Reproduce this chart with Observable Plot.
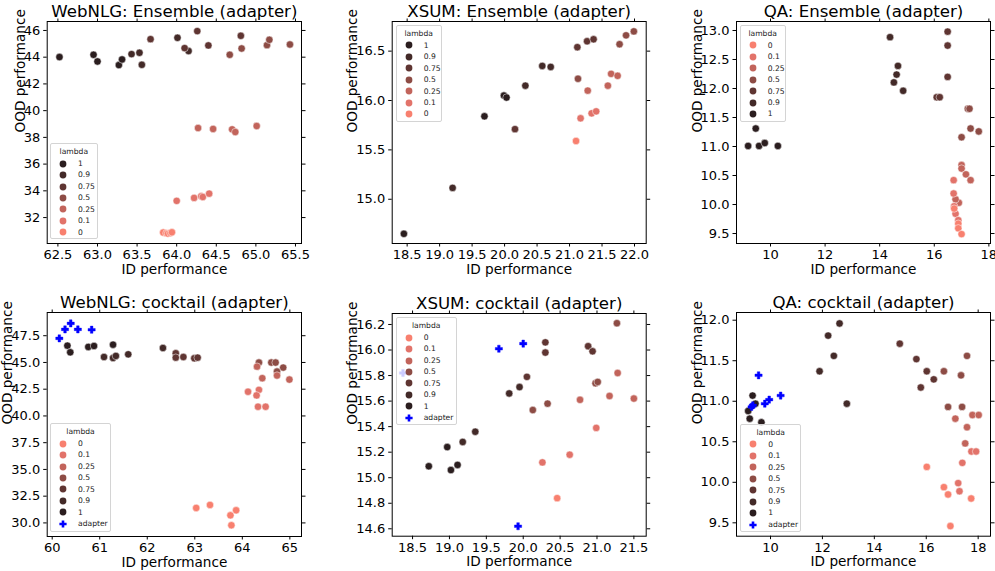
<!DOCTYPE html>
<html>
<head>
<meta charset="utf-8">
<script src="https://cdn.jsdelivr.net/npm/d3@7"></script>
<script src="https://cdn.jsdelivr.net/npm/@observablehq/plot@0.6"></script>
<style>
  html, body { margin: 0; padding: 0; background: white; }
  #root { position: relative; width: 995px; height: 571px; overflow: hidden; font-family: 'DejaVu Sans', sans-serif; }
  .panel { position: absolute; }
  .legend { position: absolute; box-sizing: border-box; border: 1px solid #d4d4d4; border-radius: 2px;
            background: rgba(255,255,255,0.8); font-family: 'DejaVu Sans', sans-serif; font-size: 7.6px; color: #222; }
  .legend .lt { position: absolute; left: 0; right: 0; text-align: center; line-height: 9px; }
  .legend .row { position: absolute; left: 0; right: 0; height: 11.45px; line-height: 11.45px; }
  .legend .row svg { position: absolute; left: 8px; top: 1.7px; }
  .legend .row span { position: absolute; left: 27px; }
</style>
</head>
<body>
<div id="root"></div>
<script>
// ---- shared categories / styling ----
const lambdaLevels = [0, 0.1, 0.25, 0.5, 0.75, 0.9, 1];
const lambdaColors = ["#f8806f", "#e2736a", "#c2645b", "#8d4c45", "#5f3532", "#432a28", "#2b1e1f"];
const xLabel = "ID performance";
const yLabel = "OOD performance";

// ---- Panel 1: WebNLG Ensemble (adapter) ----
const webEnsX = [62.52,62.95,63.00,63.27,63.31, 63.43,63.53,63.56,64.01,64.15, 63.67,64.10,64.26,64.40,64.81, 64.67,64.82,65.14,65.17,65.43, 64.27,64.46,64.70,64.74,65.01, 64.00,64.22,64.31,64.33,64.41, 63.83,63.87,63.89,63.92,63.94];
const webEnsY = [44.01,44.18,43.68,43.41,43.83, 44.23,44.33,43.43,45.45,44.46, 45.35,44.68,45.95,44.88,45.60, 44.18,44.65,44.90,45.30,44.95, 38.70,38.63,38.60,38.40,38.85, 33.25,33.47,33.59,33.54,33.79, 30.88,30.83,30.80,30.85,30.90];
const webEnsL = [1,1,1,1,1, 0.9,0.9,0.9,0.9,0.9, 0.75,0.75,0.75,0.75,0.75, 0.5,0.5,0.5,0.5,0.5, 0.25,0.25,0.25,0.25,0.25, 0.1,0.1,0.1,0.1,0.1, 0,0,0,0,0];
const webEnsXTicks = [62.5,63.0,63.5,64.0,64.5,65.0,65.5];
const webEnsYTicks = [32,34,36,38,40,42,44,46];

// ---- Panel 2: XSUM Ensemble (adapter) ----
const xsumEnsX = [18.45,19.69,19.99,20.03, 19.20,20.32,20.58,20.71, 20.16,21.12,21.27,21.37, 21.13,21.77,21.87,21.99, 21.28,21.59,21.64,21.74, 21.17,21.34,21.41, 21.10];
const xsumEnsY = [14.65,15.84,16.05,16.03, 15.115,16.15,16.35,16.34, 15.71,16.54,16.60,16.62, 16.22,16.57,16.66,16.70, 16.10,16.15,16.27,16.25, 15.82,15.87,15.89, 15.59];
const xsumEnsL = [1,1,1,1, 0.9,0.9,0.9,0.9, 0.75,0.75,0.75,0.75, 0.5,0.5,0.5,0.5, 0.25,0.25,0.25,0.25, 0.1,0.1,0.1, 0];
const xsumEnsXTicks = [18.5,19.0,19.5,20.0,20.5,21.0,21.5,22.0];
const xsumEnsYTicks = [15.0,15.5,16.0,16.5];

// ---- Panel 3: QA Ensemble (adapter) ----
const qaEnsX = [9.18,9.46,9.58,9.79,10.27, 14.38,14.52,14.62,14.67,14.86, 16.49,16.49,16.49,16.09,16.20, 17.23,17.29,17.33,17.63,17.00, 17.00,17.00,17.16,17.33,16.90,16.78, 16.71,16.71,16.73,16.78,16.88, 16.73,16.88,16.88,17.00];
const qaEnsY = [11.01,11.31,11.01,11.06,11.01, 12.885,12.105,12.24,12.39,11.96, 12.98,12.74,12.20,11.85,11.85, 11.65,11.65,11.31,11.26,11.16, 10.68,10.62,10.52,10.42,10.03,10.09, 10.42,10.19,9.97,9.84,9.73, 9.93,9.67,9.59,9.49];
const qaEnsL = [1,1,1,1,1, 0.9,0.9,0.9,0.9,0.9, 0.75,0.75,0.75,0.75,0.75, 0.5,0.5,0.5,0.5,0.5, 0.25,0.25,0.25,0.25,0.25,0.25, 0.1,0.1,0.1,0.1,0.1, 0,0,0,0];
const qaEnsXTicks = [10,12,14,16,18];
const qaEnsYTicks = [9.5,10.0,10.5,11.0,11.5,12.0,12.5,13.0];

// ---- Panel 4: WebNLG cocktail (adapter) ----
const webCockX = [60.32,60.38,60.76,60.88,61.28, 61.09,61.28,61.34,61.60,62.33, 62.60,62.60,62.76,62.99,63.06, 64.35,64.61,64.70,64.86,64.73, 64.31,64.73,64.42,64.99, 64.12,64.35,64.30,64.33,64.49, 63.03,63.32,63.75,63.87,63.77];
const webCockY = [46.57,45.95,46.45,46.54,46.66, 45.51,45.42,45.61,45.76,46.35, 45.86,45.45,45.51,45.39,45.45, 44.99,44.99,44.99,44.52,44.15, 44.61,43.78,43.53,43.40, 42.26,42.44,41.92,40.86,40.86, 31.40,31.68,30.71,31.18,29.78];
const webCockL = [1,1,1,1,1, 0.9,0.9,0.9,0.9,0.9, 0.75,0.75,0.75,0.75,0.75, 0.5,0.5,0.5,0.5,0.5, 0.25,0.25,0.25,0.25, 0.1,0.1,0.1,0.1,0.1, 0,0,0,0,0];
const webAdapterX = [60.15,60.27,60.39,60.54,60.83];
const webAdapterY = [47.25,48.09,48.65,48.09,48.06];
const webCockXTicks = [60,61,62,63,64,65];
const webCockYTicks = [30.0,32.5,35.0,37.5,40.0,42.5,45.0,47.5];

// ---- Panel 5: XSUM cocktail (adapter) ----
const xsumCockX = [18.72,18.97,19.02,19.11, 19.18,19.35,19.81,19.95, 20.05,20.30,20.30,20.88,20.94, 20.13,20.33,21.27,20.98,21.01, 21.28,20.77,21.17,21.50, 20.99,20.63,20.26, 20.46];
const xsumCockY = [15.09,15.24,15.06,15.10, 15.28,15.36,15.66,15.71, 15.79,16.06,15.98,16.03,15.99, 15.53,15.58,16.21,15.74,15.75, 15.82,15.61,15.64,15.62, 15.39,15.18,15.12, 14.84];
const xsumCockL = [1,1,1,1, 0.9,0.9,0.9,0.9, 0.75,0.75,0.75,0.75,0.75, 0.5,0.5,0.5,0.5,0.5, 0.25,0.25,0.25,0.25, 0.1,0.1,0.1, 0];
const xsumAdapterX = [18.37,19.67,20.00,19.93];
const xsumAdapterY = [15.82,16.01,16.05,14.62];
const xsumCockXTicks = [18.5,19.0,19.5,20.0,20.5,21.0,21.5];
const xsumCockYTicks = [14.6,14.8,15.0,15.2,15.4,15.6,15.8,16.0,16.2];

// ---- Panel 6: QA cocktail (adapter) ----
const qaCockX = [9.14,9.20,9.31,9.42,9.65, 11.89,12.22,12.44,12.66,12.94, 14.98,15.62,15.79,16.02,16.29, 16.68,17.34,17.57,17.38,16.84, 17.12,17.57,17.78,18.02,17.50, 17.74,17.92,17.39,17.23,17.28, 16.02,16.68,16.84,17.73,16.93];
const qaCockY = [10.88,10.785,11.07,10.97,10.74, 11.37,11.81,11.56,11.96,10.97, 11.71,11.52,11.17,11.37,11.27, 11.37,11.32,11.56,10.93,10.93, 10.785,10.68,10.83,10.83,10.48, 10.38,10.38,10.24,9.99,9.89, 10.19,9.94,9.85,9.80,9.46];
const qaCockL = [1,1,1,1,1, 0.9,0.9,0.9,0.9,0.9, 0.75,0.75,0.75,0.75,0.75, 0.5,0.5,0.5,0.5,0.5, 0.25,0.25,0.25,0.25,0.25, 0.1,0.1,0.1,0.1,0.1, 0,0,0,0,0];
const qaAdapterX = [9.54,9.27,9.32,9.78,9.95,10.39];
const qaAdapterY = [11.32,10.93,10.95,10.97,11.02,11.07];
const qaCockXTicks = [10,12,14,16,18];
const qaCockYTicks = [9.5,10.0,10.5,11.0,11.5,12.0];

// ---- helpers ----
const zip = (xs, ys, ls) => xs.map((x, i) => ({x, y: ys[i], lambda: ls ? ls[i] : null}));
const f1 = d => d.toFixed(1);
const f0 = d => String(d);
const FONT = "'DejaVu Sans', sans-serif";
const TICK_FS = 13;
const LABEL_FS = 13.6;
const TITLE_FS = 16.6;

const plusSymbol = {
  draw(ctx, size) {
    const a = Math.sqrt(size / Math.PI), t = a * 0.36;
    ctx.moveTo(-t, -a); ctx.lineTo(t, -a); ctx.lineTo(t, -t); ctx.lineTo(a, -t);
    ctx.lineTo(a, t); ctx.lineTo(t, t); ctx.lineTo(t, a); ctx.lineTo(-t, a);
    ctx.lineTo(-t, t); ctx.lineTo(-a, t); ctx.lineTo(-a, -t); ctx.lineTo(-t, -t); ctx.closePath();
  }
};

const root = document.getElementById("root");

function panel(o) {
  const marks = [
    Plot.dot(o.pts, {x: "x", y: "y", fill: "lambda", r: 3.7, stroke: "white", strokeWidth: 0.5}),
  ];
  if (o.adapters) marks.push(Plot.dot(o.adapters, {x: "x", y: "y", symbol: plusSymbol, r: 3.6, fill: "#0000ff", stroke: "#0000ff", strokeWidth: 0.4}));
  marks.push(
    Plot.frame({stroke: "black", strokeWidth: 1}),
    Plot.axisX({ticks: o.xTicks, tickFormat: o.xFmt, tickSize: 3.5, tickPadding: 3, label: null, fontSize: TICK_FS}),
    Plot.axisX({anchor: "top", ticks: o.xTicks, tickFormat: () => "", tickSize: 3.5, label: null}),
    Plot.axisY({ticks: o.yTicks, tickFormat: o.yFmt, tickSize: 3.5, tickPadding: 3.5, label: null, fontSize: TICK_FS}),
    Plot.axisY({anchor: "right", ticks: o.yTicks, tickFormat: () => "", tickSize: 3.5, label: null}),
    Plot.text([o.title], {frameAnchor: "top", dy: -4.5, lineAnchor: "bottom", fontSize: TITLE_FS}),
    Plot.text([xLabel], {frameAnchor: "bottom", dy: 20.5, lineAnchor: "top", fontSize: LABEL_FS}),
    Plot.text([yLabel], {frameAnchor: "left", dx: -o.ylo, rotate: -90, fontSize: LABEL_FS})
  );
  const svg = Plot.plot({
    width: o.w, height: o.h,
    marginLeft: o.ml, marginRight: o.mr, marginTop: o.mt, marginBottom: o.mb,
    style: {fontFamily: FONT, fontSize: TICK_FS + "px", color: "black", background: "transparent", overflow: "visible"},
    x: {domain: o.xDomain},
    y: {domain: o.yDomain},
    color: {type: "ordinal", domain: lambdaLevels, range: lambdaColors},
    marks
  });
  const wrap = document.createElement("div");
  wrap.className = "panel";
  wrap.style.left = o.x0 + "px";
  wrap.style.top = o.y0 + "px";
  wrap.appendChild(svg);
  root.appendChild(wrap);

  // legend
  const lg = document.createElement("div");
  lg.className = "legend";
  lg.style.left = o.lg[0] + "px"; lg.style.top = o.lg[1] + "px";
  lg.style.width = o.lg[2] + "px"; lg.style.height = o.lg[3] + "px";
  const t = document.createElement("div");
  t.className = "lt"; t.style.top = "2.5px"; t.textContent = "lambda";
  lg.appendChild(t);
  const entries = o.order.map(l => ({label: String(l), color: lambdaColors[lambdaLevels.indexOf(l)], plus: false}));
  if (o.adapters) entries.push({label: "adapter", color: "#0000ff", plus: true});
  entries.forEach((e, i) => {
    const row = document.createElement("div");
    row.className = "row";
    row.style.top = (13.7 + i * 11.45) + "px";
    const s = document.createElementNS("http://www.w3.org/2000/svg", "svg");
    s.setAttribute("width", 8); s.setAttribute("height", 8);
    s.innerHTML = e.plus
      ? `<path transform="translate(4,4)" d="M-1.3,-3.6H1.3V-1.3H3.6V1.3H1.3V3.6H-1.3V1.3H-3.6V-1.3H-1.3Z" fill="${e.color}"/>`
      : `<circle cx="4" cy="4" r="3.4" fill="${e.color}"/>`;
    row.appendChild(s);
    const sp = document.createElement("span");
    sp.textContent = e.label;
    row.appendChild(sp);
    lg.appendChild(row);
  });
  root.appendChild(lg);
}

const desc = [1, 0.9, 0.75, 0.5, 0.25, 0.1, 0];
const asc = [0, 0.1, 0.25, 0.5, 0.75, 0.9, 1];

panel({x0: 0, y0: 0, w: 330, h: 285, ml: 46.7, mr: 29, mt: 21, mb: 42, ylo: 26.7,
  title: "WebNLG: Ensemble (adapter)", xDomain: [62.365, 65.576], yDomain: [30.06, 46.67],
  xTicks: webEnsXTicks, yTicks: webEnsYTicks, xFmt: f1, yFmt: f0,
  pts: zip(webEnsX, webEnsY, webEnsL), order: desc, lg: [50, 143.3, 47.7, 96]});

panel({x0: 330, y0: 0, w: 335, h: 285, ml: 61.7, mr: 19.3, mt: 21, mb: 42, ylo: 39.2,
  title: "XSUM: Ensemble (adapter)", xDomain: [18.27, 22.18], yDomain: [14.552, 16.80],
  xTicks: xsumEnsXTicks, yTicks: xsumEnsYTicks, xFmt: f1, yFmt: f1,
  pts: zip(xsumEnsX, xsumEnsY, xsumEnsL), order: desc, lg: [395.7, 25, 46, 97.3]});

panel({x0: 665, y0: 0, w: 330, h: 285, ml: 71, mr: 5, mt: 21, mb: 42, ylo: 39.3,
  title: "QA: Ensemble (adapter)", xDomain: [8.754, 18.06], yDomain: [9.328, 13.155],
  xTicks: qaEnsXTicks, yTicks: qaEnsYTicks, xFmt: f0, yFmt: f1,
  pts: zip(qaEnsX, qaEnsY, qaEnsL), order: asc, lg: [739.7, 25, 46, 97.3]});

panel({x0: 0, y0: 285, w: 330, h: 286, ml: 46.7, mr: 29, mt: 27, mb: 35, ylo: 40,
  title: "WebNLG: cocktail (adapter)", xDomain: [59.895, 65.245], yDomain: [28.73, 49.67],
  xTicks: webCockXTicks, yTicks: webCockYTicks, xFmt: f0, yFmt: f1,
  pts: zip(webCockX, webCockY, webCockL), adapters: zip(webAdapterX, webAdapterY),
  order: asc, lg: [50, 423.3, 61, 108.4]});

panel({x0: 330, y0: 285, w: 335, h: 286, ml: 61.7, mr: 19.3, mt: 28, mb: 35.3, ylo: 39.2,
  title: "XSUM: cocktail (adapter)", xDomain: [18.224, 21.667], yDomain: [14.542, 16.286],
  xTicks: xsumCockXTicks, yTicks: xsumCockYTicks, xFmt: f1, yFmt: f1,
  pts: zip(xsumCockX, xsumCockY, xsumCockL), adapters: zip(xsumAdapterX, xsumAdapterY),
  order: asc, lg: [395.7, 317.3, 61, 107.7]});

panel({x0: 665, y0: 285, w: 330, h: 286, ml: 71, mr: 5, mt: 27, mb: 35.3, ylo: 39.3,
  title: "QA: cocktail (adapter)", xDomain: [8.69, 18.475], yDomain: [9.335, 12.095],
  xTicks: qaCockXTicks, yTicks: qaCockYTicks, xFmt: f0, yFmt: f1,
  pts: zip(qaCockX, qaCockY, qaCockL), adapters: zip(qaAdapterX, qaAdapterY),
  order: asc, lg: [740.3, 424, 60.7, 107.7]});
</script>
</body>
</html>
